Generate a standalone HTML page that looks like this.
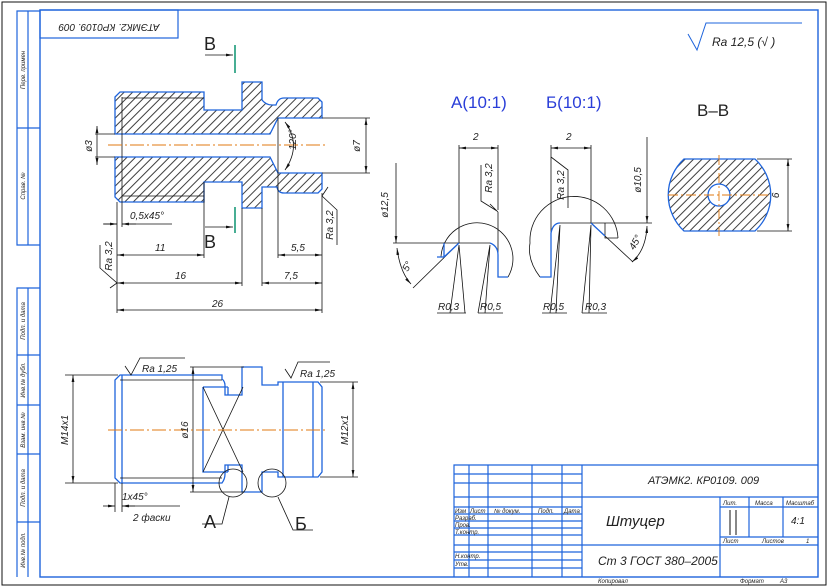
<!DOCTYPE html>
<html><head><meta charset="utf-8"><style>
html,body{margin:0;padding:0;background:#fff}
svg{display:block}
text{font-family:"Liberation Sans","DejaVu Sans",sans-serif;font-style:italic;fill:#222}
.b{stroke:#1e64dc;fill:none;stroke-width:1.3}
.k{stroke:#111;fill:none;stroke-width:0.8}
.c{stroke:#e07a10;stroke-width:0.9;stroke-dasharray:14,3,2,3;fill:none}
.hf{fill:url(#h)}
.wf{fill:#fff}
</style></head><body>
<svg width="830" height="588" viewBox="0 0 830 588" xmlns="http://www.w3.org/2000/svg">
<defs>
<pattern id="h" x="0" y="0" width="6" height="6" patternUnits="userSpaceOnUse" patternTransform="rotate(45)">
<rect x="2.6" y="0" width="0.8" height="6" fill="#111"/></pattern>
<marker id="a" viewBox="0 0 10 4" refX="10" refY="2" markerWidth="9" markerHeight="3.5" orient="auto-start-reverse"><path d="M0,0L10,2L0,4z" fill="#111"/></marker>
</defs>
<!-- frames -->
<rect x="2" y="2" width="824" height="583" fill="none" stroke="#111" stroke-width="1"/>
<rect x="40" y="10" width="778" height="567" fill="none" stroke="#1e64dc" stroke-width="1.4"/>
<g stroke="#1e64dc" stroke-width="1.2" fill="none">
<path d="M40,11H17V245H40M28,11V245M17,128H40"/>
<path d="M40,288H17V577M28,288V577M17,355H40M17,405H40M17,454H40M17,522H40"/>
<rect x="40" y="10" width="138" height="28"/>
</g>
<text transform="translate(109,24) rotate(180)" font-size="10" text-anchor="middle">АТЭМК2. КР0109. 009</text>
<g font-size="6" >
<text transform="translate(25,70) rotate(-90)" text-anchor="middle">Перв. примен</text>
<text transform="translate(25,186) rotate(-90)" text-anchor="middle">Справ. №</text>
<text transform="translate(25,321) rotate(-90)" text-anchor="middle">Подп. и дата</text>
<text transform="translate(25,380) rotate(-90)" text-anchor="middle">Инв.№ дубл.</text>
<text transform="translate(25,430) rotate(-90)" text-anchor="middle">Взам. инв.№</text>
<text transform="translate(25,488) rotate(-90)" text-anchor="middle">Подп. и дата</text>
<text transform="translate(25,550) rotate(-90)" text-anchor="middle">Инв.№ подл.</text>
</g>
<!-- Ra 12,5 -->
<path d="M688,34L697,50L706,23H802" fill="none" stroke="#1e64dc" stroke-width="1"/>
<text x="712" y="46" font-size="12">Ra 12,5 (√ )</text>

<!-- main section -->
<path d="M115,97L120,92H204V110H242V82H262V100Q266,105 272,105H276Q278,98 284,98H318L322,102V118H278L270,134H115Z" class="b hf"/>
<path d="M115,157H270L278,173H322V189L318,193H284Q278,193 277,187H262V208H242V182H204V202H120L115,197Z" class="b hf"/>
<path d="M278,118V173M122,97V202M122,98H204M122,196H204" class="k"/>
<line x1="108" y1="145" x2="326" y2="145" class="c"/>
<path d="M285,122Q302,145 285,170" class="k" marker-start="url(#a)" marker-end="url(#a)"/>
<text transform="translate(296,150) rotate(-90)" font-size="10">120°</text>
<!-- dims -->
<g class="k">
<path d="M95,134H115M95,157H115"/><line x1="97" y1="126" x2="97" y2="165" marker-start="url(#a)" marker-end="url(#a)"/>
<path d="M322,118H370M322,173H370"/><line x1="366" y1="118" x2="366" y2="173" marker-start="url(#a)" marker-end="url(#a)"/>
<path d="M117,202V313M204,182V258M242,208V286M262,208V286M278,173V258M322,193V313M122,202V227"/>
<path d="M103,224H117M122,224H172"/><line x1="104" y1="224" x2="117" y2="224" marker-end="url(#a)"/><line x1="136" y1="224" x2="122" y2="224" marker-end="url(#a)"/>
<line x1="117" y1="255" x2="204" y2="255" marker-start="url(#a)" marker-end="url(#a)"/>
<line x1="117" y1="283" x2="242" y2="283" marker-start="url(#a)" marker-end="url(#a)"/>
<line x1="117" y1="310" x2="322" y2="310" marker-start="url(#a)" marker-end="url(#a)"/>
<line x1="278" y1="255" x2="322" y2="255" marker-start="url(#a)" marker-end="url(#a)"/>
<line x1="262" y1="283" x2="322" y2="283" marker-start="url(#a)" marker-end="url(#a)"/>
<path d="M110,288L117,283L100,268V245"/>
<path d="M328,187L322,196L337,210V245"/>
<line x1="205" y1="55" x2="233" y2="55" marker-end="url(#a)"/>
<line x1="205" y1="227" x2="233" y2="227" marker-end="url(#a)"/>
</g>
<path d="M235,45V73M235,207V233" stroke="#1a9a7a" stroke-width="1.6"/>
<text x="204" y="50" font-size="18" style="font-style:normal">В</text>
<text x="204" y="248" font-size="18" style="font-style:normal">В</text>
<g font-size="10">
<text transform="translate(92,146) rotate(-90)" text-anchor="middle">ø3</text>
<text transform="translate(360,146) rotate(-90)" text-anchor="middle">ø7</text>
<text x="130" y="219">0,5х45°</text>
<text x="155" y="251">11</text>
<text x="175" y="279">16</text>
<text x="212" y="307">26</text>
<text x="291" y="251">5,5</text>
<text x="284" y="279">7,5</text>
<text transform="translate(112,256) rotate(-90)" text-anchor="middle">Ra 3,2</text>
<text transform="translate(333,225) rotate(-90)" text-anchor="middle">Ra 3,2</text>
</g>

<!-- detail titles -->
<text x="451" y="108" font-size="17" style="font-style:normal;fill:#2a3ed8">А(10:1)</text>
<text x="546" y="108" font-size="17" style="font-style:normal;fill:#2a3ed8">Б(10:1)</text>
<text x="697" y="116" font-size="17" style="font-style:normal">В–В</text>

<!-- detail A -->
<g class="k">
<path d="M459,145V243M498,145V210M498,212V260"/>
<line x1="459" y1="148" x2="498" y2="148" marker-start="url(#a)" marker-end="url(#a)"/>
<line x1="396" y1="163" x2="396" y2="243" marker-end="url(#a)"/>
<path d="M393,243H490"/>
<path d="M441,257A36,36 0 1,1 508,277"/>
<path d="M490,204L498,212M481,165V201L497,211"/>
<path d="M413,288L459,243"/>
<path d="M397,248Q400,272 411,284" marker-start="url(#a)" marker-end="url(#a)"/>
<path d="M459,245L450,313M459,245L465,313M437,313H466"/>
<path d="M490,245L478,313M490,245L485,313M478,313H503"/>
</g>
<path d="M444,243V257H437M444,257L459,243M490,243Q498,246 498,255V277H508" class="b"/>
<g font-size="10">
<text x="473" y="140">2</text>
<text transform="translate(492,178) rotate(-90)" text-anchor="middle">Ra 3,2</text>
<text transform="translate(388,205) rotate(-90)" text-anchor="middle">ø12,5</text>
<text transform="translate(410,268) rotate(-60)" text-anchor="middle">5°</text>
<text x="438" y="310">R0,3</text>
<text x="480" y="310">R0,5</text>
</g>

<!-- detail Б -->
<g class="k">
<path d="M551,145V233M591,145V223"/>
<line x1="551" y1="148" x2="591" y2="148" marker-start="url(#a)" marker-end="url(#a)"/>
<path d="M560,223H652"/>
<path d="M540,277Q527,260 530,243A40,40 0 0,1 618,238"/>
<line x1="647" y1="137" x2="647" y2="223" marker-end="url(#a)"/>
<path d="M551,157L568,170V208"/>
<path d="M591,223L633,262"/>
<path d="M647,226Q646,250 632,262" marker-start="url(#a)" marker-end="url(#a)"/>
<path d="M560,225L550,313M560,225L556,313M542,313H567"/>
<path d="M591,225L582,313M591,225L589,313M582,313H607"/>
<path d="M605,223V238H618"/>
</g>
<path d="M551,233V277H540M551,233Q553,223 560,223M591,223L605,236" class="b"/>
<g font-size="10">
<text x="566" y="140">2</text>
<text transform="translate(564,185) rotate(-90)" text-anchor="middle">Ra 3,2</text>
<text transform="translate(641,180) rotate(-90)" text-anchor="middle">ø10,5</text>
<text transform="translate(638,244) rotate(-60)" text-anchor="middle">45°</text>
<text x="543" y="310">R0,5</text>
<text x="585" y="310">R0,3</text>
</g>

<!-- section B-B -->
<path d="M684,159H755A49,49 0 0,1 755,231H684A49,49 0 0,1 684,159Z" class="b hf"/>
<circle cx="719" cy="195" r="11" class="b wf"/>
<path d="M668,195H770M719,155V236" stroke="#e07a10" stroke-width="0.9" stroke-dasharray="10,3,2,3"/>
<path d="M757,159H792M757,231H792" class="k"/>
<line x1="788" y1="159" x2="788" y2="231" class="k" marker-start="url(#a)" marker-end="url(#a)"/>
<text transform="translate(772,195) rotate(90)" font-size="10" text-anchor="middle">9</text>

<!-- bottom view -->
<g class="b">
<path d="M120,375H222V379Q225,381 225,386V395H242V367H262V385H278V382H318L322,387V472L318,477H278V472H262V492H242V465H225V474Q225,479 222,483H120L115,478V380Z"/>
<path d="M122,375V483M203,387V472H228M203,387H228M228,387V395M228,465V472M283,382V477M313,382V477"/>
</g>
<g class="k">
<path d="M203,387L243,472M203,472L243,387"/>
<path d="M120,380H222M120,478H222"/>
<path d="M65,375H118M65,483H118"/>
<line x1="73" y1="375" x2="73" y2="483" marker-start="url(#a)" marker-end="url(#a)"/>
<path d="M190,367H244M190,492H244"/>
<line x1="193" y1="367" x2="193" y2="492" marker-start="url(#a)" marker-end="url(#a)"/>
<path d="M320,382H358M320,477H358"/>
<line x1="353" y1="382" x2="353" y2="477" marker-start="url(#a)" marker-end="url(#a)"/>
<path d="M115,483V512M122,483V512"/>
<line x1="103" y1="506" x2="115" y2="506" marker-end="url(#a)"/>
<line x1="135" y1="506" x2="122" y2="506" marker-end="url(#a)"/>
<path d="M122,506H180"/>
<path d="M125,366L131,375L140,358H185"/>
<path d="M285,369L291,378L298,362H330"/>
<circle cx="233" cy="483" r="14"/>
<circle cx="272" cy="483" r="14"/>
<path d="M229,497L222,524H202M278,497L293,530H313"/>
</g>
<line x1="108" y1="430" x2="328" y2="430" class="c"/>
<g font-size="10">
<text transform="translate(68,430) rotate(-90)" text-anchor="middle">M14x1</text>
<text transform="translate(188,430) rotate(-90)" text-anchor="middle">ø16</text>
<text transform="translate(348,430) rotate(-90)" text-anchor="middle">M12x1</text>
<text x="142" y="372">Ra 1,25</text>
<text x="300" y="377">Ra 1,25</text>
<text x="122" y="500">1х45°</text>
<text x="133" y="521">2 фаски</text>
</g>
<text x="204" y="528" font-size="18" style="font-style:normal">А</text>
<text x="295" y="530" font-size="18" style="font-style:normal">Б</text>

<!-- title block -->
<g stroke="#1e64dc" stroke-width="1.2" fill="none">
<path d="M454,577V465H818"/>
<path d="M469,465V577M488,465V577M532,465V577M562,465V577M582,465V577"/>
<path d="M454,474H582M454,483H582M454,497H818M454,507H582M454,514H582M454,521H582M454,528H582M454,535H582M454,545H818M454,552H582M454,560H582M454,568H582"/>
<path d="M720,497V577M749,497V537M783,497V537M720,507H818M720,537H818"/>
</g>
<path d="M730,510V535M736,510V535" stroke="#111" stroke-width="1"/>
<g font-size="6">
<text x="455" y="513">Изм</text><text x="470" y="513">Лист</text><text x="494" y="513">№ докум.</text><text x="538" y="513">Подп.</text><text x="564" y="513">Дата</text>
<text x="455" y="520">Разраб.</text><text x="455" y="527">Пров.</text><text x="455" y="534">Т.контр.</text>
<text x="455" y="558">Н.контр.</text><text x="455" y="566">Утв.</text>
<text x="723" y="505">Лит.</text><text x="755" y="505">Масса</text><text x="786" y="505">Масштаб</text>
<text x="723" y="543">Лист</text><text x="762" y="543">Листов</text><text x="806" y="543">1</text>
<text x="598" y="583">Копировал</text><text x="740" y="583">Формат</text><text x="780" y="583">А3</text>
</g>
<text x="648" y="484" font-size="11">АТЭМК2. КР0109. 009</text>
<text x="606" y="526" font-size="15">Штуцер</text>
<text x="791" y="524" font-size="10">4:1</text>
<text x="598" y="565" font-size="12">Ст 3  ГОСТ 380–2005</text>
</svg>
</body></html>
